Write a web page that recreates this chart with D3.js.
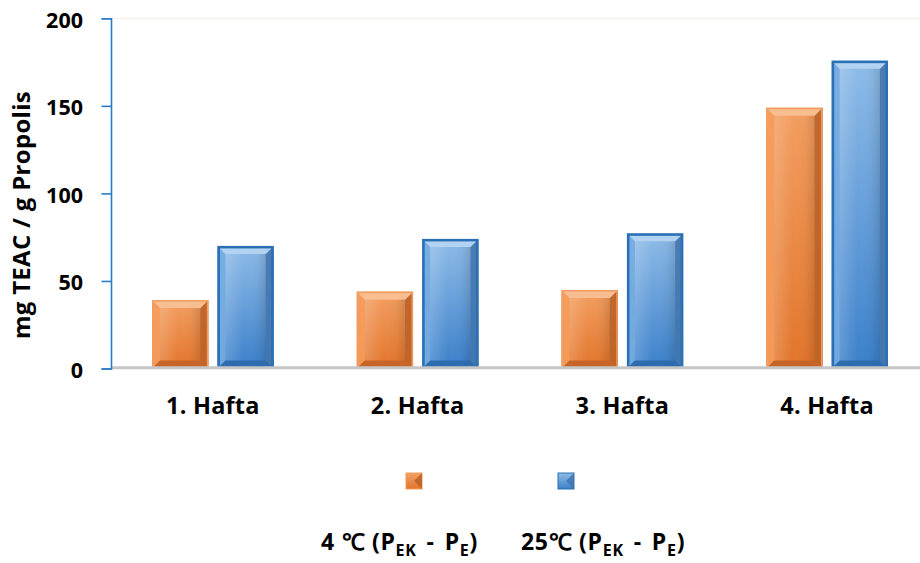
<!DOCTYPE html>
<html>
<head>
<meta charset="utf-8">
<script src="https://cdn.jsdelivr.net/npm/d3@7"></script>
<style>
  body { margin: 0; background: #fff; }
  svg { display: block; }
  text { font-family: "Open Sans", Lato, sans-serif; font-weight: 700; fill: #000; }
</style>
</head>
<body>
<svg id="chart" width="920" height="563"></svg>
<script>
// Weekly antioxidant capacity (mg TEAC / g propolis) at two storage temperatures
const categories = ["1. Hafta", "2. Hafta", "3. Hafta", "4. Hafta"];
const seriesKeys = ["cold", "warm"];
const cold = [39.1, 43.9, 44.8, 148.9];   // 4 ℃
const warm = [70.0, 74.0, 77.2, 175.8];   // 25 ℃
const yTicks = [0, 50, 100, 150, 200];
const yTitle = "mg TEAC / g Propolis";
const legendLead = ["4 ℃ (P", "25℃ (P"];

const W = 920, H = 563;
const svg = d3.select("#chart");

const x0 = d3.scaleBand().domain(categories).range([110.5, 929.5]);
const bw0 = x0.bandwidth();
const x1 = d3.scaleBand().domain(seriesKeys)
  .range([bw0 * 0.203, bw0 * 0.797]).paddingInner(0.14);
const y = d3.scaleLinear().domain([0, 200]).range([368.5, 18.3]);

// bevelled bar palettes
const pal = {
  cold: { face: ["#f39f62", "#e2752b"], top: "#f8c196", left: "#f69c5c", right: "#bb6228",
          bottom: "#c26327", stroke: "#f09d62", sw: 1.5 },
  warm: { face: ["#8fbce8", "#3b80ca"], top: "#b6d5f3", left: "#76ace2", right: "#4476ad",
          bottom: "#2d69ab", stroke: "#2b70b4", sw: 2.5 }
};

const defs = svg.append("defs");
seriesKeys.forEach(k => {
  const g = defs.append("linearGradient").attr("id", "face-" + k)
    .attr("x1", 0).attr("y1", 0).attr("x2", 0).attr("y2", 1);
  g.append("stop").attr("offset", "0%").attr("stop-color", pal[k].face[0]);
  g.append("stop").attr("offset", "100%").attr("stop-color", pal[k].face[1]);
});
const sh = defs.append("linearGradient").attr("id", "side-shade")
  .attr("x1", 0).attr("y1", 0).attr("x2", 1).attr("y2", 0);
sh.append("stop").attr("offset", "0%").attr("stop-color", "#fff").attr("stop-opacity", 0.18);
sh.append("stop").attr("offset", "45%").attr("stop-color", "#fff").attr("stop-opacity", 0);
sh.append("stop").attr("offset", "80%").attr("stop-color", "#000").attr("stop-opacity", 0.03);
sh.append("stop").attr("offset", "100%").attr("stop-color", "#000").attr("stop-opacity", 0.12);

function bevelBox(sel, bx, by, w, h, b, k) {
  const p = pal[k];
  const g = sel.append("g");
  b = Math.min(b, w / 2 - 1, h / 2 - 1);
  g.append("rect").attr("x", bx).attr("y", by).attr("width", w).attr("height", h)
    .attr("fill", `url(#face-${k})`);
  const pts = {
    top: [[bx, by], [bx + w, by], [bx + w - b, by + b], [bx + b, by + b]],
    left: [[bx, by], [bx + b, by + b], [bx + b, by + h - b], [bx, by + h]],
    right: [[bx + w, by], [bx + w, by + h], [bx + w - b, by + h - b], [bx + w - b, by + b]],
    bottom: [[bx, by + h], [bx + b, by + h - b], [bx + w - b, by + h - b], [bx + w, by + h]]
  };
  ["left", "right", "bottom", "top"].forEach(s => {
    g.append("polygon").attr("points", pts[s].map(d => d.join(",")).join(" "))
      .attr("fill", p[s]).attr("opacity", 0.9);
  });
  g.append("rect").attr("x", bx + b).attr("y", by + b)
    .attr("width", Math.max(0, w - 2 * b)).attr("height", Math.max(0, h - 2 * b))
    .attr("fill", "url(#side-shade)");
  g.append("rect").attr("x", bx + p.sw / 2).attr("y", by + p.sw / 2)
    .attr("width", w - p.sw).attr("height", h - p.sw)
    .attr("fill", "none").attr("stroke", p.stroke).attr("stroke-width", p.sw);
  return g;
}

// faint plot-area top edge
svg.append("line").attr("x1", 112).attr("x2", W).attr("y1", y(200)).attr("y2", y(200))
  .attr("stroke", "#fbeee6").attr("stroke-width", 1);

// bars
const values = { cold, warm };
const barLayer = svg.append("g");
categories.forEach((c, i) => {
  seriesKeys.forEach(k => {
    const v = values[k][i];
    const bx = x0(c) + x1(k);
    bevelBox(barLayer, bx, y(v), x1.bandwidth(), y(0) - y(v), 8, k);
  });
});

// category baseline
svg.append("line").attr("x1", 112).attr("x2", W).attr("y1", y(0) - 0.8).attr("y2", y(0) - 0.8)
  .attr("stroke", "#c6c6c6").attr("stroke-width", 3);

// y axis
const yAxis = svg.append("g").attr("transform", "translate(111,0)")
  .call(d3.axisLeft(y).tickValues(yTicks).tickSize(9.5).tickPadding(18.5).tickFormat(d3.format("d")));
yAxis.select(".domain").attr("stroke", "#2b7cc6").attr("stroke-width", 1.6);
yAxis.selectAll(".tick line").attr("stroke", "#2b7cc6").attr("stroke-width", 1.6);
yAxis.selectAll(".tick text").attr("font-size", 21.5).attr("dy", "0.42em")
  .attr("font-family", "'Open Sans', sans-serif").attr("font-weight", 700).attr("fill", "#000");

// category labels
svg.append("g").selectAll("text").data(categories).join("text")
  .attr("x", d => x0(d) + bw0 / 2).attr("y", 414)
  .attr("text-anchor", "middle").attr("font-size", 23.5).attr("letter-spacing", 0.2)
  .text(d => d);

// y title
svg.append("text").attr("transform", "translate(30,215) rotate(-90)")
  .attr("text-anchor", "middle").attr("font-size", 24).attr("letter-spacing", 0.3)
  .text(yTitle);

// legend swatches
const swX = [406, 558];
seriesKeys.forEach((k, i) => {
  const p = pal[k];
  const g = svg.append("g");
  g.append("rect").attr("x", swX[i]).attr("y", 473).attr("width", 16).attr("height", 16)
    .attr("fill", `url(#face-${k})`).attr("stroke", p.stroke).attr("stroke-width", 1);
  g.append("polygon")
    .attr("points", `${swX[i] + 16},473 ${swX[i] + 8},481 ${swX[i] + 16},489`)
    .attr("fill", p.right).attr("opacity", 0.85);
});

// legend labels
const txX = [321, 521];
legendLead.forEach((lead, i) => {
  const t = svg.append("text").attr("x", txX[i]).attr("y", 550).attr("font-size", 23)
    .attr("letter-spacing", 0.7);
  t.append("tspan").text(lead);
  t.append("tspan").attr("font-size", 16).attr("dy", 6).text("EK");
  t.append("tspan").attr("dy", -6).attr("dx", 10).text("-");
  t.append("tspan").attr("dx", 10).text("P");
  t.append("tspan").attr("font-size", 16).attr("dy", 6).text("E");
  t.append("tspan").attr("dy", -6).text(")");
});
</script>
</body>
</html>
